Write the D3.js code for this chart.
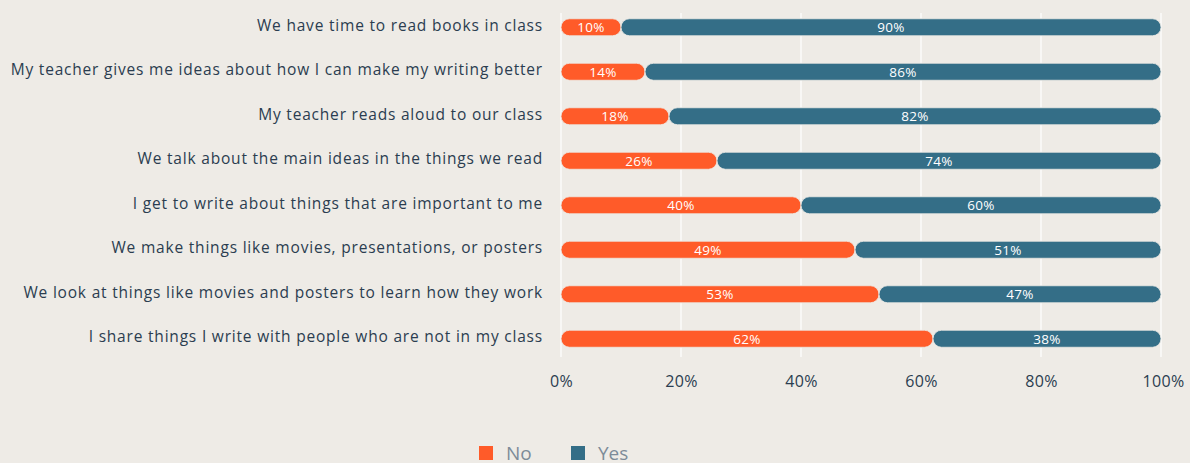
<!DOCTYPE html>
<html>
<head>
<meta charset="utf-8">
<script src="https://cdn.jsdelivr.net/npm/d3@7"></script>
<style>
  html, body { margin: 0; padding: 0; background: #EEEBE6; }
  svg { display: block; font-family: "Open Sans", Roboto, sans-serif; }
</style>
</head>
<body>
<svg id="chart" width="1190" height="463"></svg>
<script>
// Survey statements, top to bottom
const categories = [
  "We have time to read books in class",
  "My teacher gives me ideas about how I can make my writing better",
  "My teacher reads aloud to our class",
  "We talk about the main ideas in the things we read",
  "I get to write about things that are important to me",
  "We make things like movies, presentations, or posters",
  "We look at things like movies and posters to learn how they work",
  "I share things I write with people who are not in my class"
];
const noValues  = [10, 14, 18, 26, 40, 49, 53, 62];
const yesValues = [90, 86, 82, 74, 60, 51, 47, 38];
const seriesNames = ["No", "Yes"];
const tickValues = [0, 20, 40, 60, 80, 100];

const colors = { No: "#FF5B29", Yes: "#346E87" };
const textColor = "#2B3D50";

const svg = d3.select("#chart");

const x = d3.scaleLinear().domain([0, 100]).range([561, 1161]);
const y = d3.scaleBand().domain(categories).range([5, 361]);

// vertical grid lines
svg.append("g")
  .selectAll("line")
  .data(tickValues)
  .join("line")
  .attr("x1", d => x(d)).attr("x2", d => x(d))
  .attr("y1", 13).attr("y2", 357)
  .attr("stroke", "#FFFFFF")
  .attr("stroke-width", 1.2);

// x axis labels
const xAxis = d3.axisBottom(x)
  .tickValues(tickValues)
  .tickFormat(d => d + "%")
  .tickSize(0)
  .tickPadding(0);
const gx = svg.append("g").attr("transform", "translate(0,376)").call(xAxis);
gx.select(".domain").remove();
gx.selectAll("text")
  .attr("fill", textColor)
  .attr("font-size", 16)
  .attr("font-family", "\"Open Sans\", Roboto, sans-serif")
  .attr("letter-spacing", 0.3)
  .attr("dy", "0.71em");
gx.selectAll(".tick").filter(d => d === 100).select("text").attr("dx", 2);

// category labels
const yAxis = d3.axisLeft(y).tickSize(0).tickPadding(0);
const gy = svg.append("g").attr("transform", "translate(543,-1.5)").call(yAxis);
gy.select(".domain").remove();
gy.selectAll("text")
  .attr("fill", textColor)
  .attr("font-size", 15.5)
  .attr("letter-spacing", 0.8)
  .attr("font-family", "\"Open Sans\", Roboto, sans-serif");

// stacked segments
const rows = categories.map((c, i) => ({ cat: c, No: noValues[i], Yes: yesValues[i] }));
const stacked = d3.stack().keys(seriesNames)(rows);
const barH = 17;

const layers = svg.append("g")
  .selectAll("g")
  .data(stacked)
  .join("g")
  .attr("fill", d => colors[d.key]);

layers.selectAll("rect")
  .data(d => d)
  .join("rect")
  .attr("x", d => x(d[0]))
  .attr("width", d => x(d[1]) - x(d[0]))
  .attr("y", d => y(d.data.cat) + y.bandwidth() / 2 - barH / 2)
  .attr("height", barH)
  .attr("rx", barH / 2)
  .attr("stroke", "#EEEBE6")
  .attr("stroke-width", 0.8);

layers.selectAll("text")
  .data(d => d.map(v => ({ v, key: d.key })))
  .join("text")
  .attr("x", d => (x(d.v[0]) + x(d.v[1])) / 2)
  .attr("y", d => y(d.v.data.cat) + y.bandwidth() / 2)
  .attr("dy", "0.36em")
  .attr("text-anchor", "middle")
  .attr("fill", "#FFFFFF")
  .attr("font-size", 13.5)
  .attr("letter-spacing", 0.3)
  .text(d => (d.v[1] - d.v[0]) + "%");

// legend
const legend = svg.append("g").attr("transform", "translate(479,446)");
const items = legend.selectAll("g")
  .data(seriesNames)
  .join("g")
  .attr("transform", (d, i) => `translate(${i * 92},0)`);
items.append("rect")
  .attr("width", 14).attr("height", 14)
  .attr("fill", d => colors[d]);
items.append("text")
  .attr("x", 27).attr("y", 7).attr("dy", "0.36em")
  .attr("fill", "#7D8B99")
  .attr("font-size", 19)
  .text(d => d);
</script>
</body>
</html>
